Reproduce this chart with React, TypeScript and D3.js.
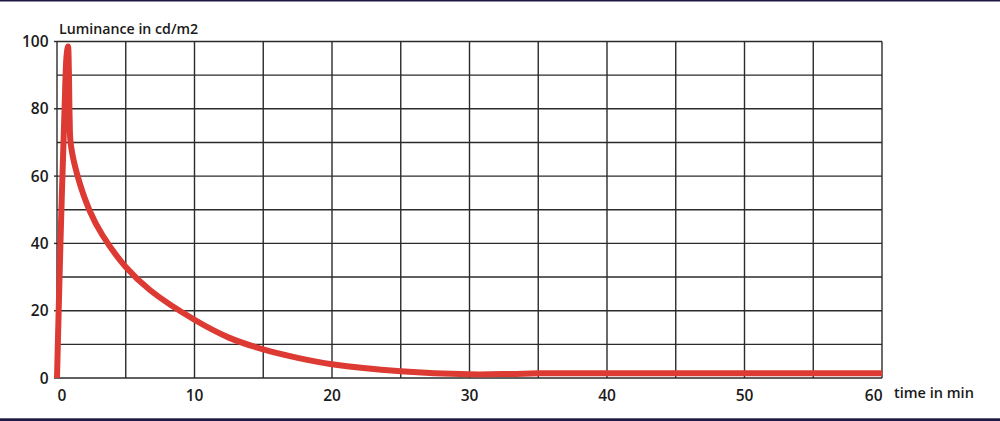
import * as d3 from "d3";

// time in minutes and luminance in cd/m2
const times = [0, 0.25, 0.55, 0.7, 0.8, 0.86, 0.92, 1.0, 1.5, 2.4, 3.3, 5, 6.8, 10, 12.5, 15, 17.5, 20, 25, 30, 33, 35, 40, 50, 60];
const luminance = [0, 40, 80, 96, 98.5, 92, 77, 69.5, 60, 49.5, 42.5, 33, 26, 17.3, 12, 8.5, 6, 4.1, 2.0, 1.1, 1.2, 1.4, 1.4, 1.4, 1.4];

const xTicks = [0, 10, 20, 30, 40, 50, 60];
const yTicks = [0, 20, 40, 60, 80, 100];
const xGrid = d3.range(0, 61, 5);
const yGrid = d3.range(0, 101, 10);

const yTitle = "Luminance in cd/m2";
const xTitle = "time in min";

const W = 1000;
const H = 421;
const margin = { top: 41.5, right: 118, bottom: 43, left: 57 };

export default function App() {
  const x = d3.scaleLinear().domain([0, 60]).range([margin.left, W - margin.right]);
  const y = d3.scaleLinear().domain([0, 100]).range([H - margin.bottom, margin.top]);

  const points = times.map((t, i) => [t, luminance[i]] as [number, number]);
  const line = d3
    .line<[number, number]>()
    .x((d) => x(d[0]))
    .y((d) => y(d[1]))
    .curve(d3.curveCatmullRom.alpha(0.5));

  const font = "'Open Sans', 'DejaVu Sans', sans-serif";
  const ink = "#1a1a1a";

  return (
    <svg
      width={W}
      height={H}
      viewBox={`0 0 ${W} ${H}`}
      style={{ position: "absolute", left: 0, top: 0, background: "#fff" }}
    >
      {/* frame bands */}
      <rect x={0} y={0} width={W} height={1.5} fill="#1c1745" />
      <rect x={0} y={418.3} width={W} height={3} fill="#1c1745" />

      {/* grid */}
      <g stroke="#2b2b2b" strokeWidth={1.4}>
        {yGrid.map((v) => (
          <line key={"h" + v} x1={x(0)} x2={x(60)} y1={y(v)} y2={y(v)} />
        ))}
        {xGrid.map((v) => (
          <line key={"v" + v} x1={x(v)} x2={x(v)} y1={y(0)} y2={y(100)} />
        ))}
        {yTicks.map((v) => (
          <line key={"t" + v} x1={x(0) - 3} x2={x(0)} y1={y(v)} y2={y(v)} />
        ))}
      </g>

      {/* curve */}
      <path
        d={line(points) ?? ""}
        fill="none"
        stroke="#dc3a33"
        strokeWidth={6}
        strokeLinejoin="round"
        strokeLinecap="butt"
      />

      {/* tick labels */}
      <g fontFamily={font} fontSize={15.5} fontWeight={600} fill={ink}>
        {yTicks.map((v) => (
          <text key={v} x={48.5} y={y(v)} dy="0.36em" textAnchor="end">
            {v}
          </text>
        ))}
        {xTicks.map((v, i) => (
          <text
            key={"x" + v}
            x={i === 0 || i === xTicks.length - 1 ? x(v) + 0.5 : x(v)}
            y={400.5}
            textAnchor={i === 0 ? "start" : i === xTicks.length - 1 ? "end" : "middle"}
          >
            {v}
          </text>
        ))}
      </g>

      <text x={59} y={34.3} fontFamily={font} fontSize={14.2} fontWeight={600} fill={ink}>
        {yTitle}
      </text>
      <text x={894} y={397.5} fontFamily={font} fontSize={14.5} fontWeight={600} fill={ink}>
        {xTitle}
      </text>
    </svg>
  );
}
